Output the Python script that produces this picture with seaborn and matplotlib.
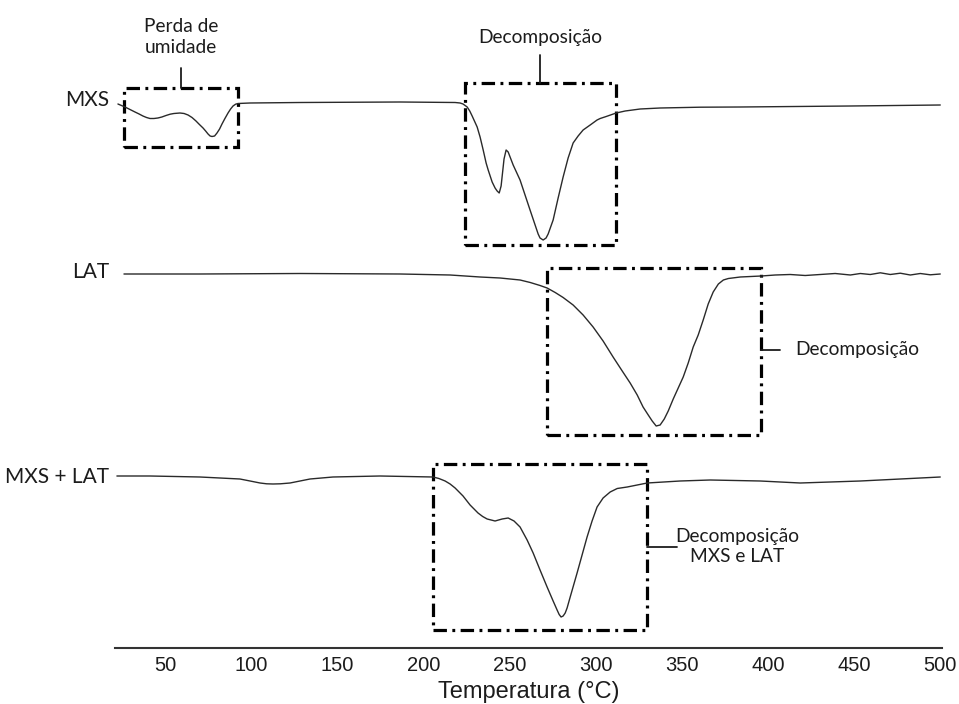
import pandas as pd
import matplotlib
matplotlib.use("Agg")
import matplotlib.pyplot as plt
from matplotlib.patches import Rectangle
import seaborn as sns

# DSC curves (signal in arbitrary units, 0 = baseline, negative = endotherm)
mxs_temp = [22.7, 26.8, 29.7, 32.6, 35.0, 37.2, 39.3, 41.3, 43.6, 45.9, 48.2, 50.6, 53.0, 55.2,
            58.7, 61.1, 63.4, 65.7, 68.0, 70.0, 72.1, 73.6, 75.0, 76.2, 77.3, 78.8, 80.2, 81.7,
            83.1, 84.8, 86.6, 88.1, 89.5, 91.0, 92.4, 99.4, 128.4, 186.5, 218.4, 221.3, 223.0,
            224.2, 225.4, 226.9, 228.3, 231.2, 232.9, 234.7, 236.4, 237.6, 239.9, 241.6, 242.8,
            244.0, 245.1, 246.8, 248.0, 249.2, 252.1, 256.1, 261.9, 266.6, 267.7, 269.5, 271.2,
            272.4, 275.3, 278.2, 281.1, 284.0, 286.9, 289.8, 292.7, 296.8, 300.8, 302.6, 306.1,
            311.9, 317.1, 325.8, 337.4, 360.6, 383.9, 447.8, 500.0]
mxs_signal = [-0.1, -0.4, -0.65, -0.9, -1.1, -1.3, -1.45, -1.55, -1.55, -1.5, -1.4, -1.25, -1.12, -1.05,
              -1.0, -1.05, -1.2, -1.45, -1.8, -2.15, -2.5, -2.8, -3.1, -3.3, -3.35, -3.3, -3.0, -2.6,
              -2.1, -1.55, -1.0, -0.6, -0.3, -0.12, -0.05, 0.0, 0.05, 0.1, 0.05, 0.0, -0.1,
              -0.25, -0.4, -0.8, -1.3, -2.4, -3.4, -4.7, -6.0, -6.7, -7.9, -8.5, -8.8,
              -9.0, -8.3, -5.6, -4.7, -4.9, -6.2, -7.7, -10.7, -13.1, -13.5, -13.7, -13.5,
              -13.1, -11.7, -9.5, -7.4, -5.5, -4.0, -3.3, -2.7, -2.2, -1.7, -1.55, -1.35,
              -1.0, -0.8, -0.6, -0.5, -0.42, -0.4, -0.3, -0.2]

lat_temp = [26.2, 70.3, 128.4, 186.5, 215.5, 232.9, 244.5, 256.1, 262.0, 267.7, 271.8, 276.5,
            281.1, 286.9, 292.7, 298.5, 304.3, 310.1, 315.4, 320.0, 324.1, 327.5, 330.5, 332.8,
            335.1, 337.4, 339.8, 342.1, 345.0, 347.9, 350.8, 353.7, 356.6, 359.5, 362.4, 365.3,
            368.2, 371.2, 374.1, 377.0, 383.9, 396.1, 404.2, 412.9, 421.6, 430.3, 439.0, 447.8,
            453.6, 459.4, 465.2, 471.0, 476.8, 482.6, 488.4, 494.2, 500.0]
lat_signal = [0.0, 0.0, 0.05, 0.0, -0.1, -0.3, -0.4, -0.6, -0.85, -1.15, -1.4, -1.85,
              -2.35, -3.1, -4.1, -5.3, -6.7, -8.3, -9.7, -10.9, -12.1, -13.3, -14.1, -14.7,
              -15.2, -15.1, -14.5, -13.7, -12.5, -11.4, -10.3, -8.9, -7.3, -6.1, -4.6, -3.0,
              -1.8, -1.0, -0.6, -0.45, -0.3, -0.2, -0.1, -0.05, -0.15, -0.05, 0.05, -0.1,
              0.05, -0.05, 0.12, -0.05, 0.08, -0.1, 0.05, -0.08, 0.0]

mix_temp = [22.1, 41.3, 70.3, 93.5, 99.4, 105.2, 109.0, 112.7, 117.0, 122.6, 128.4, 134.2, 147.5,
            174.8, 205.6, 209.0, 212.6, 215.5, 218.4, 223.0, 227.1, 231.7, 234.4, 237.0, 241.6,
            245.7, 249.2, 252.6, 256.1, 260.2, 263.7, 267.7, 271.8, 275.3, 277.6, 278.8, 279.9,
            281.1, 282.3, 283.4, 285.2, 289.2, 292.1, 295.0, 297.9, 300.8, 304.3, 308.4, 312.5,
            318.3, 329.9, 349.0, 366.5, 395.5, 418.7, 453.6, 500.0]
mix_signal = [0.0, 0.0, -0.1, -0.3, -0.5, -0.7, -0.78, -0.8, -0.78, -0.7, -0.5, -0.3, -0.1,
              0.0, -0.1, -0.25, -0.5, -0.8, -1.2, -2.0, -2.9, -3.7, -4.05, -4.3, -4.5,
              -4.3, -4.2, -4.5, -5.1, -6.4, -7.7, -9.4, -11.1, -12.5, -13.4, -13.85, -14.1,
              -14.0, -13.7, -13.2, -12.1, -9.7, -7.9, -6.1, -4.5, -3.1, -2.2, -1.6, -1.25,
              -1.1, -0.7, -0.5, -0.4, -0.5, -0.7, -0.5, -0.1]

samples = ["MXS", "LAT", "MXS + LAT"]
temps = [mxs_temp, lat_temp, mix_temp]
signals = [mxs_signal, lat_signal, mix_signal]
offsets = [54.5, 37.4, 17.2]          # vertical stacking of the curves
label_y = [54.8, 37.6, 17.1]

# dash-dot boxes: (t_min, t_max, y_min, y_max)
boxes = [(26.2, 92.4, 50.1, 56.0),
         (224.2, 311.9, 40.3, 56.5),
         (271.8, 396.1, 21.3, 38.0),
         (205.6, 329.9, 1.8, 18.4)]

sns.set_theme(style="white")
plt.rcParams['font.family'] = ['Lato', 'DejaVu Sans']

fig = plt.figure(figsize=(9.59, 7.04), dpi=100)
ax = fig.add_axes([115 / 959, 56 / 704, 827 / 959, 648 / 704])

ink = "#1c1c1c"
for name, t, s, off in zip(samples, temps, signals, offsets):
    df = pd.DataFrame({"temp": t, "signal": [v + off for v in s]})
    sns.lineplot(data=df, x="temp", y="signal", ax=ax, color="#2a2a2a",
                 lw=1.0, estimator=None, sort=False)

for name, ly in zip(samples, label_y):
    ax.text(17.5, ly, name, ha="right", va="center", fontsize=15, color=ink)

for t0, t1, y0, y1 in boxes:
    ax.add_patch(Rectangle((t0, y0), t1 - t0, y1 - y0, fill=False, edgecolor="black",
                           lw=2.3, linestyle=(0, (4.2, 1.7, 0.9, 1.7))))

# annotation leaders and labels
fs = 13.8
ax.plot([59.3, 59.3], [56.0, 58.0], color=ink, lw=1.3)
ax.text(59.3, 61.1, "Perda de\numidade", ha="center", va="center", fontsize=fs,
        color=ink, linespacing=1.25)
ax.plot([267.7, 267.7], [56.5, 59.3], color=ink, lw=1.3)
ax.text(267.7, 61.1, "Decomposição", ha="center", va="center", fontsize=fs, color=ink)
ax.plot([396.1, 407.1], [29.8, 29.8], color=ink, lw=1.3)
ax.text(415.8, 29.8, "Decomposição", ha="left", va="center", fontsize=fs, color=ink)
ax.plot([329.9, 347.3], [10.1, 10.1], color=ink, lw=1.3)
ax.text(382.1, 10.15, "Decomposição\nMXS e LAT", ha="center", va="center", fontsize=fs,
        color=ink, linespacing=1.2)

ax.set_xlim(21, 501)
ax.set_ylim(0, 64.8)
ax.set_xticks(range(50, 501, 50))
ax.set_yticks([])
ax.set_ylabel("")
ax.tick_params(axis="x", length=0, pad=6, labelsize=14.5, colors=ink)
for lab in ax.get_xticklabels():
    lab.set_family(["Liberation Sans", "DejaVu Sans"])
ax.set_xlabel("Temperatura (°C)", fontsize=17, color=ink, labelpad=4,
              family=["Liberation Sans", "DejaVu Sans"])

for side in ["top", "left", "right"]:
    ax.spines[side].set_visible(False)
ax.spines["bottom"].set_color("#333333")
ax.spines["bottom"].set_linewidth(1.5)
ax.patch.set_alpha(0)

fig.savefig("out.png", dpi=100)
plt.close(fig)
